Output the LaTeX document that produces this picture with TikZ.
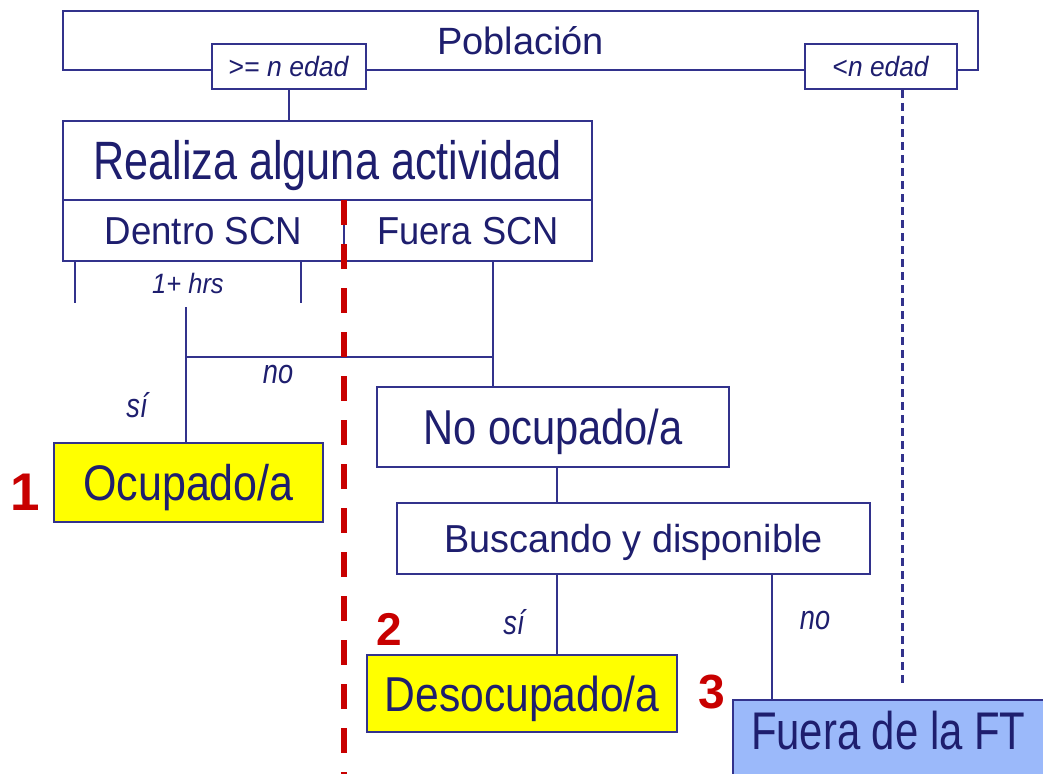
\documentclass[tikz,border=0pt]{standalone}
\usepackage{fontspec}
\setmainfont{Liberation Sans}
\usepackage{graphicx}
\definecolor{navy}{RGB}{50,50,140}
\definecolor{ink}{RGB}{30,30,110}
\definecolor{redd}{RGB}{200,0,0}
\definecolor{yel}{RGB}{255,255,0}
\definecolor{ftblue}{RGB}{155,185,250}
\newcommand\fs[3]{\fontsize{#1pt}{#1pt}\selectfont\scalebox{#2}[1]{#3}}
\begin{document}
\begin{tikzpicture}[x=1pt,y=-1pt,
  bx/.style={draw=navy,line width=2pt,fill=white,inner sep=0pt,text=ink,text depth=0pt},
  conn/.style={draw=navy,line width=2.5pt},
  thinconn/.style={draw=navy,line width=2pt},
  lab/.style={inner sep=0pt,text=ink,text depth=0pt,font=\itshape},
  num/.style={inner sep=0pt,text=redd,text depth=0pt,font=\bfseries},
  capht/.style={text height=#1pt}]
\useasboundingbox (0,0) rectangle (1043,773);

% Poblacion and age boxes
\node[bx, minimum width=915pt, minimum height=59pt, capht=27.2] (pob) at (520.5,40.5) {\fs{38}{1}{Población}};
\node[bx, minimum width=154pt, minimum height=45pt, capht=20] (ge) at (289,66.5) {\fs{28}{0.95}{>= \textit{n edad}}};
\node[bx, minimum width=152pt, minimum height=45pt, capht=20] (lt) at (881,66.5) {\fs{28}{0.94}{<\textit{n edad}}};

% activity boxes
\node[bx, minimum width=529pt, minimum height=79pt, capht=38.7] (real) at (327.5,160.5) {\fs{54}{0.8}{Realiza alguna actividad}};
\node[bx, minimum width=281pt, minimum height=61pt, capht=27.9] (dentro) at (203.5,230.5) {\fs{39}{0.94}{Dentro SCN}};
\node[bx, minimum width=248pt, minimum height=61pt, capht=27.9] (fuera) at (468,230.5) {\fs{39}{0.93}{Fuera SCN}};
\node[lab, capht=20] (hrs) at (188,283) {\fs{28}{0.91}{1+ hrs}};

% outcome boxes
\node[bx, fill=yel, minimum width=269pt, minimum height=79pt, capht=35.8] (ocup) at (188.5,482.5) {\fs{50}{0.86}{Ocupado/a}};
\node[bx, minimum width=352pt, minimum height=80pt, capht=35] (noocup) at (553,427) {\fs{49}{0.85}{No ocupado/a}};
\node[bx, minimum width=473pt, minimum height=71pt, capht=27.9] (busc) at (633.5,538.5) {\fs{39}{0.97}{Buscando y disponible}};
\node[bx, fill=yel, minimum width=310pt, minimum height=77pt, capht=35] (desoc) at (522,693.5) {\fs{49}{0.87}{Desocupado/a}};
\node[bx, fill=ftblue, anchor=north west, inner xsep=18pt, inner ysep=11pt, capht=38, text depth=60pt] (ft) at (732,699) {\makebox[330pt][l]{\fs{53}{0.79}{Fuera de la FT}}};

% helper coordinates
\coordinate (bl) at (75,303);
\coordinate (br) at (301,303);
\coordinate (hrstop) at (186,307);
\coordinate (jn) at (186,357);
\coordinate (xd) at (493,0);
\coordinate (xa) at (557,0);
\coordinate (xb) at (772,0);
\coordinate (xc) at (902,0);
\coordinate (dend) at (902,687);
\coordinate (rtop) at (344,200);
\coordinate (rbot) at (344,790);

% connectors
\draw[conn] (ge.south) -- (ge.south |- real.north);
\draw[thinconn] (bl |- dentro.south) -- (bl);
\draw[thinconn] (br |- dentro.south) -- (br);
\draw[conn] (hrstop) -- (hrstop |- ocup.north);
\draw[thinconn] (jn) -- (jn -| xd);
\draw[conn] (fuera.south -| xd) -- (noocup.north -| xd);
\draw[conn] (noocup.south -| xa) -- (busc.north -| xa);
\draw[conn] (busc.south -| xa) -- (desoc.north -| xa);
\draw[conn] (busc.south -| xb) -- (ft.north -| xb);
\draw[navy, line width=3pt, dash pattern=on 8pt off 5pt] (lt.south -| xc) -- (dend);
\draw[redd, line width=6pt, dash pattern=on 25pt off 19pt] (rtop) -- (rbot);

% labels
\node[lab, capht=17.6] (no1) at (278,375) {\fs{34}{0.8}{no}};
\node[lab, capht=24] (si1) at (137,405) {\fs{34}{0.8}{sí}};
\node[lab, capht=24] (si2) at (514,622) {\fs{34}{0.8}{sí}};
\node[lab, capht=17.6] (no2) at (815,621) {\fs{34}{0.8}{no}};

% numbers
\node[num, capht=38] (n1) at (25,491) {\fs{53}{1}{1}};
\node[num, capht=33] (n2) at (389.5,628.5) {\fs{46}{1}{2}};
\node[num, capht=34] (n3) at (712,691) {\fs{48}{1}{3}};
\end{tikzpicture}
\end{document}
